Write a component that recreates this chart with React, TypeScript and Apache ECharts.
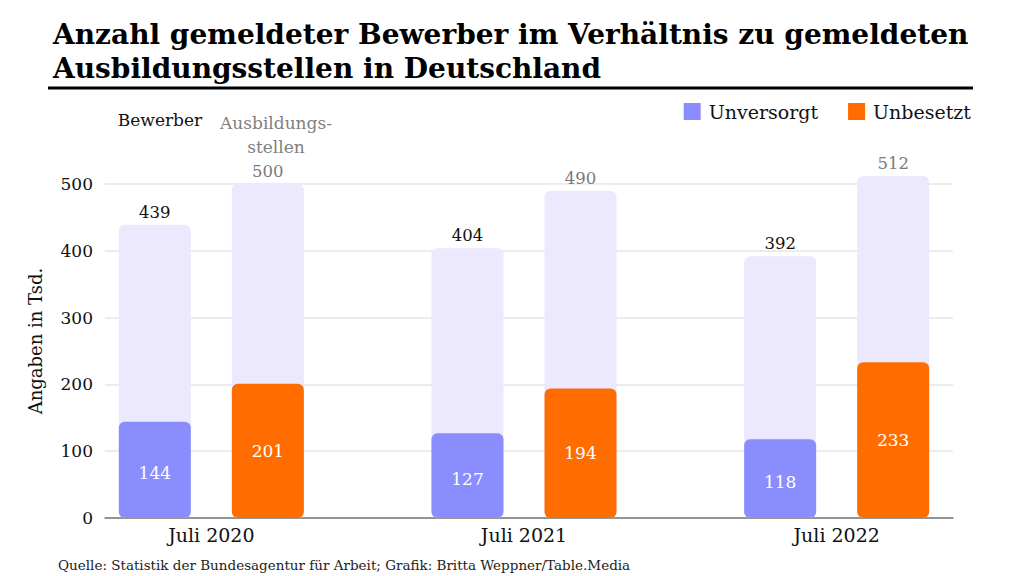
import * as echarts from "echarts";
import { useEffect, useRef } from "react";

const jahre = ["Juli 2020", "Juli 2021", "Juli 2022"];
const bewerber = [439, 404, 392];
const ausbildungsstellen = [500, 490, 512];
const unversorgt = [144, 127, 118];
const unbesetzt = [201, 194, 233];

const FONT = "'DejaVu Serif', 'Liberation Serif', serif";

export default function App() {
  const chartRef = useRef<HTMLDivElement>(null);

  useEffect(() => {
    const chart = echarts.init(chartRef.current, null, { renderer: "svg" });

    const option = {
      animation: false,
      backgroundColor: "#ffffff",
      textStyle: { fontFamily: FONT },
      title: {
        text: "Anzahl gemeldeter Bewerber im Verhältnis zu gemeldeten\nAusbildungsstellen in Deutschland",
        left: 48,
        top: 12,
        textStyle: {
          fontFamily: FONT,
          fontSize: 28,
          fontWeight: "bold",
          lineHeight: 34,
          color: "#000",
        },
      },
      legend: {
        data: ["Unversorgt", "Unbesetzt"],
        right: 48,
        top: 97,
        icon: "rect",
        itemWidth: 17,
        itemHeight: 17,
        itemGap: 30,
        textStyle: { fontFamily: FONT, fontSize: 19, color: "#111", padding: [0, 0, 0, 3] },
      },
      graphic: [
        {
          type: "line",
          shape: { x1: 48, y1: 88, x2: 973, y2: 88 },
          style: { stroke: "#000", lineWidth: 3 },
        },
        {
          type: "text",
          x: 160,
          y: 111,
          style: {
            text: "Bewerber",
            fontFamily: FONT,
            fontSize: 17,
            fill: "#111",
            textAlign: "center",
          },
        },
        {
          type: "text",
          x: 276,
          y: 111,
          style: {
            text: "Ausbildungs-\nstellen",
            fontFamily: FONT,
            fontSize: 17,
            lineHeight: 24,
            fill: "#808080",
            textAlign: "center",
          },
        },
        {
          type: "text",
          x: 35,
          y: 341,
          rotation: Math.PI / 2,
          style: {
            text: "Angaben in Tsd.",
            fontFamily: FONT,
            fontSize: 18,
            fill: "#111",
            textAlign: "center",
            textVerticalAlign: "middle",
          },
        },
        {
          type: "text",
          x: 58,
          y: 558,
          style: {
            text: "Quelle: Statistik der Bundesagentur für Arbeit; Grafik: Britta Weppner/Table.Media",
            fontFamily: FONT,
            fontSize: 13.5,
            fill: "#222",
          },
        },
      ],
      grid: [
        { left: 105, right: 71, top: 184, bottom: 58 },
        { left: 55, right: 31, top: 184, bottom: 58 },
      ],
      xAxis: [
        {
          gridIndex: 0,
          type: "value",
          min: 0,
          max: 1,
          axisLine: { show: true, onZero: false, lineStyle: { color: "#777", width: 1.5 } },
          axisTick: { show: false },
          axisLabel: { show: false },
          splitLine: { show: false },
        },
        {
          gridIndex: 1,
          type: "category",
          data: jahre,
          axisLine: { show: false },
          axisTick: { show: false },
          axisLabel: { fontFamily: FONT, fontSize: 19, color: "#111", margin: 7 },
        },
        {
          gridIndex: 1,
          type: "category",
          data: jahre,
          show: false,
        },
      ],
      yAxis: [
        {
          gridIndex: 0,
          type: "value",
          min: 0,
          max: 500,
          interval: 100,
          axisLine: { show: false },
          axisTick: { show: false },
          axisLabel: { fontFamily: FONT, fontSize: 17, color: "#111", margin: 12 },
          splitLine: { lineStyle: { color: "#e6e6e6", width: 1.5 } },
        },
        {
          gridIndex: 1,
          type: "value",
          min: 0,
          max: 500,
          show: false,
        },
      ],
      series: [
        {
          name: "Bewerber",
          type: "bar",
          xAxisIndex: 1,
          yAxisIndex: 1,
          data: bewerber,
          barWidth: 72,
          barGap: "57%",
          clip: false,
          itemStyle: { color: "#ece8fd", borderRadius: 6 },
          label: {
            show: true,
            position: "top",
            distance: 4,
            fontFamily: FONT,
            fontSize: 16.5,
            color: "#111",
          },
        },
        {
          name: "Ausbildungsstellen",
          type: "bar",
          xAxisIndex: 1,
          yAxisIndex: 1,
          data: ausbildungsstellen,
          barWidth: 72,
          barGap: "57%",
          clip: false,
          itemStyle: { color: "#ece8fd", borderRadius: 6 },
          label: {
            show: true,
            position: "top",
            distance: 4,
            fontFamily: FONT,
            fontSize: 16.5,
            color: "#7a7a7a",
          },
        },
        {
          name: "Unversorgt",
          type: "bar",
          xAxisIndex: 2,
          yAxisIndex: 1,
          data: unversorgt,
          barWidth: 72,
          barGap: "57%",
          clip: false,
          itemStyle: { color: "#8a8dfd", borderRadius: 6 },
          label: {
            show: true,
            position: "inside",
            offset: [0, 3],
            fontFamily: FONT,
            fontSize: 17,
            color: "#fff",
          },
        },
        {
          name: "Unbesetzt",
          type: "bar",
          xAxisIndex: 2,
          yAxisIndex: 1,
          data: unbesetzt,
          barWidth: 72,
          barGap: "57%",
          clip: false,
          itemStyle: { color: "#ff6d00", borderRadius: 6 },
          label: {
            show: true,
            position: "inside",
            fontFamily: FONT,
            fontSize: 17,
            color: "#fff",
          },
        },
      ],
    };

    chart.setOption(option);
    return () => {
      chart.dispose();
    };
  }, []);

  return (
    <div
      ref={chartRef}
      style={{ position: "fixed", left: 0, top: 0, width: 1024, height: 576 }}
    ></div>
  );
}
